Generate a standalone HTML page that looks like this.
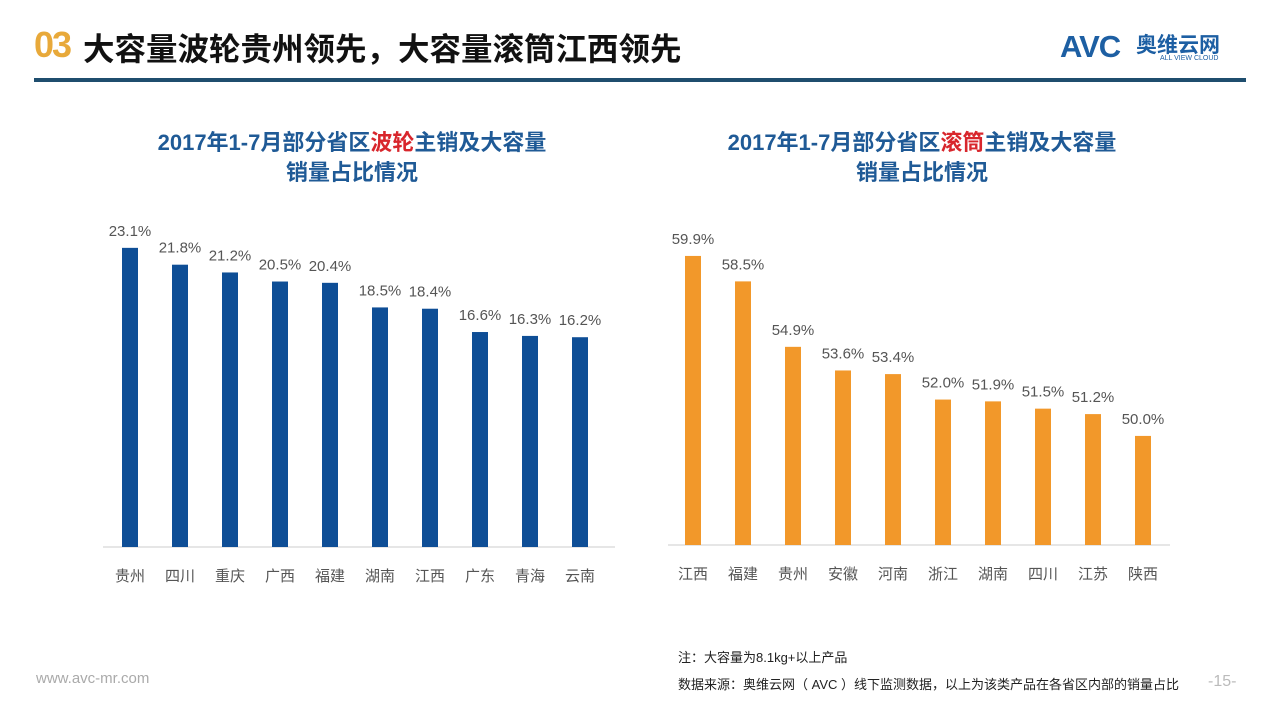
<!DOCTYPE html>
<html><head><meta charset="utf-8"><style>
body{margin:0;width:1280px;height:720px;background:#fff;position:relative;overflow:hidden;font-family:"Liberation Sans","Noto Sans CJK SC",sans-serif}
.abs{position:absolute;white-space:nowrap}
</style></head><body>
<div class="abs" style="left:34px;top:24px;font-size:36px;font-weight:bold;color:#e8a93a;letter-spacing:-2px">03</div>
<div class="abs" style="left:83px;top:24px;font-size:31.5px;font-weight:bold;color:#111">大容量波轮贵州领先，大容量滚筒江西领先</div>
<div class="abs" style="left:1060px;top:29px;font-size:31px;font-weight:bold;color:#1d5fa3;letter-spacing:-1px">AVC</div>
<div class="abs" style="left:1136px;top:29px;font-size:21px;font-weight:bold;color:#1d5fa3">奥维云网</div>
<div class="abs" style="left:1160px;top:55px;font-size:7px;color:#1d5fa3">ALL VIEW CLOUD</div>
<div class="abs" style="left:34px;top:78px;width:1212px;height:4px;background:#1f4e6e"></div>
<svg class="abs" style="left:0;top:0" width="1280" height="720" id="chart"></svg>
<div class="abs" style="left:36px;top:670px;font-size:15px;color:#aaa">www.avc-mr.com</div>
<div class="abs" style="left:678px;top:647px;font-size:13px;color:#222">注：大容量为8.1kg+以上产品</div>
<div class="abs" style="left:678px;top:674px;font-size:13px;color:#222">数据来源：奥维云网（ AVC ）线下监测数据，以上为该类产品在各省区内部的销量占比</div>
<div class="abs" style="left:1208px;top:673px;font-size:16px;color:#bbb">-15-</div>
<script>
const leftCats=["贵州","四川","重庆","广西","福建","湖南","江西","广东","青海","云南"];
const leftVals=[23.1,21.8,21.2,20.5,20.4,18.5,18.4,16.6,16.3,16.2];
const rightCats=["江西","福建","贵州","安徽","河南","浙江","湖南","四川","江苏","陕西"];
const rightVals=[59.9,58.5,54.9,53.6,53.4,52.0,51.9,51.5,51.2,50.0];
const NS="http://www.w3.org/2000/svg";
const svg=document.getElementById('chart');
function mk(t,a,txt){const e=document.createElementNS(NS,t);for(const k in a)e.setAttribute(k,a[k]);if(txt!=null)e.textContent=txt;svg.appendChild(e);return e;}
function title(cx,word){
  const t=mk('text',{x:cx,y:150,'text-anchor':'middle','font-size':22,'font-weight':'bold',fill:'#1f5a96'});
  
  const a=document.createElementNS(NS,'tspan');a.textContent='2017年1-7月部分省区';t.appendChild(a);
  const b=document.createElementNS(NS,'tspan');b.setAttribute('fill','#d8262c');b.textContent=word;t.appendChild(b);
  const c=document.createElementNS(NS,'tspan');c.textContent='主销及大容量';t.appendChild(c);
  const t2=mk('text',{x:cx,y:180,'text-anchor':'middle','font-size':22,'font-weight':'bold',fill:'#1f5a96'},'销量占比情况');
  
}
function chart(cats,vals,x0,base,vmin,scale,color,axL,axR,name){
  const y=v=>base-(v-vmin)*scale;
  const xs=i=>x0+i*50;
  const ax=mk('line',{x1:axL,x2:axR,y1:base,y2:base,stroke:'#ccc','stroke-width':1});
  
  cats.forEach((c,i)=>{
    const v=vals[i];
    const r=mk('rect',{x:xs(i)-8,y:y(v),width:16,height:base-y(v),fill:color});
    
    const l=mk('text',{x:xs(i),y:y(v)-12,'text-anchor':'middle','font-size':15,fill:'#555'},v.toFixed(1)+'%');
    
    const cl=mk('text',{x:xs(i),y:base+34,'text-anchor':'middle','font-size':15,fill:'#555'},c);
    
  });
}
title(352,'波轮');title(922,'滚筒');
chart(leftCats,leftVals,130,547,0,12.95,'#0e4e96',103,615,'pulsator');
chart(rightCats,rightVals,693,545,44,18.18,'#f2982a',668,1170,'drum');
</script>
</body></html>
